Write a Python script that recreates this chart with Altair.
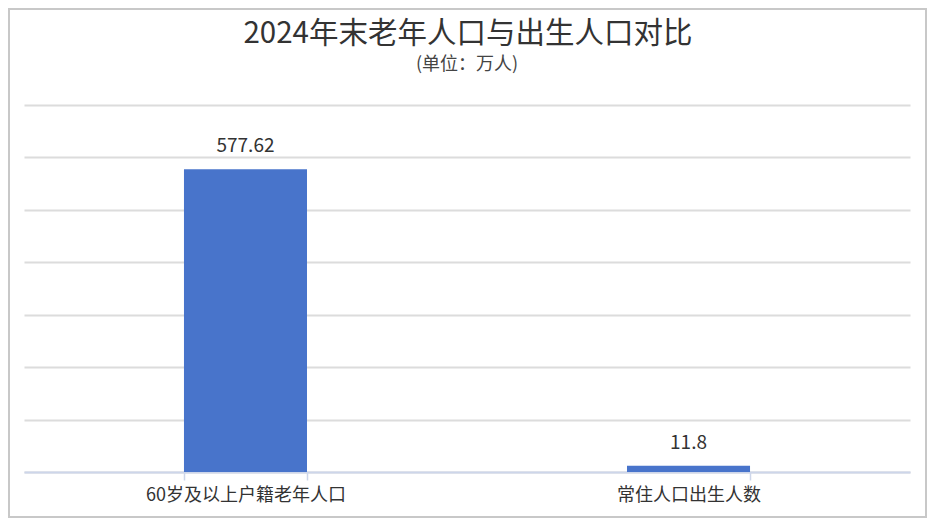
import altair as alt
import pandas as pd

categories = ["60岁及以上户籍老年人口", "常住人口出生人数"]
values = [577.62, 11.8]
value_labels = ["577.62", "11.8"]
title_text = "2024年末老年人口与出生人口对比"
subtitle_text = "(单位：万人)"

df = pd.DataFrame({"cat": categories, "val": values, "lbl": value_labels})
tdf = pd.DataFrame({"t": [title_text], "s": [subtitle_text]})

FONT = "Noto Sans CJK SC"
W, H = 886, 367
PL, PT, PR, PB = 16, 97, 17, 46

x = alt.X("cat:N", sort=categories, title=None,
          scale=alt.Scale(paddingInner=0.7223, paddingOuter=0.3611),
          axis=alt.Axis(labelAngle=0, tickBand="extent", domainColor="#cdd6ea",
                        domainWidth=2, tickColor="#cdd6ea", tickWidth=1.5, tickSize=8,
                        labelFontSize=18, labelColor="#333333", labelFont=FONT,
                        labelPadding=6, labelLimit=400, grid=False))
y = alt.Y("val:Q", title=None,
          scale=alt.Scale(domain=[0, 700], nice=False),
          axis=alt.Axis(values=[0, 100, 200, 300, 400, 500, 600, 700], labels=False,
                        ticks=False, domain=False, grid=True, gridColor="#dcdcdc",
                        gridWidth=2))

bars = alt.Chart(df).mark_bar(color="#4874CB").encode(x=x, y=y)
text = alt.Chart(df).mark_text(baseline="alphabetic", dy=-17, fontSize=19, color="#333333",
                               font=FONT).encode(x=alt.X("cat:N", sort=categories), y="val:Q", text="lbl:N")

border = alt.Chart(tdf).mark_rect(
    fill=None, stroke="#c8c8c8", strokeWidth=2
).encode(x=alt.value(-PL + 1), x2=alt.value(W + PR - 1),
         y=alt.value(-PT + 1), y2=alt.value(H + PB - 1))

title = alt.Chart(tdf).mark_text(fontSize=29.5, font=FONT, color="#333333",
                                 baseline="alphabetic", align="center").encode(
    x=alt.value(W / 2 + 1), y=alt.value(-62), text="t:N")
subtitle = alt.Chart(tdf).mark_text(fontSize=18, font=FONT, color="#444444",
                                    baseline="alphabetic", align="center").encode(
    x=alt.value(W / 2), y=alt.value(-35), text="s:N")

chart = alt.layer(border, bars, text, title, subtitle).properties(
    width=W, height=H,
    autosize=alt.AutoSizeParams(type="none"),
    padding={"left": PL, "top": PT, "right": PR, "bottom": PB},
    background="white",
).configure_view(strokeWidth=0, stroke="transparent")

chart.save("out.html", embed_options={"renderer": "svg", "actions": False})
